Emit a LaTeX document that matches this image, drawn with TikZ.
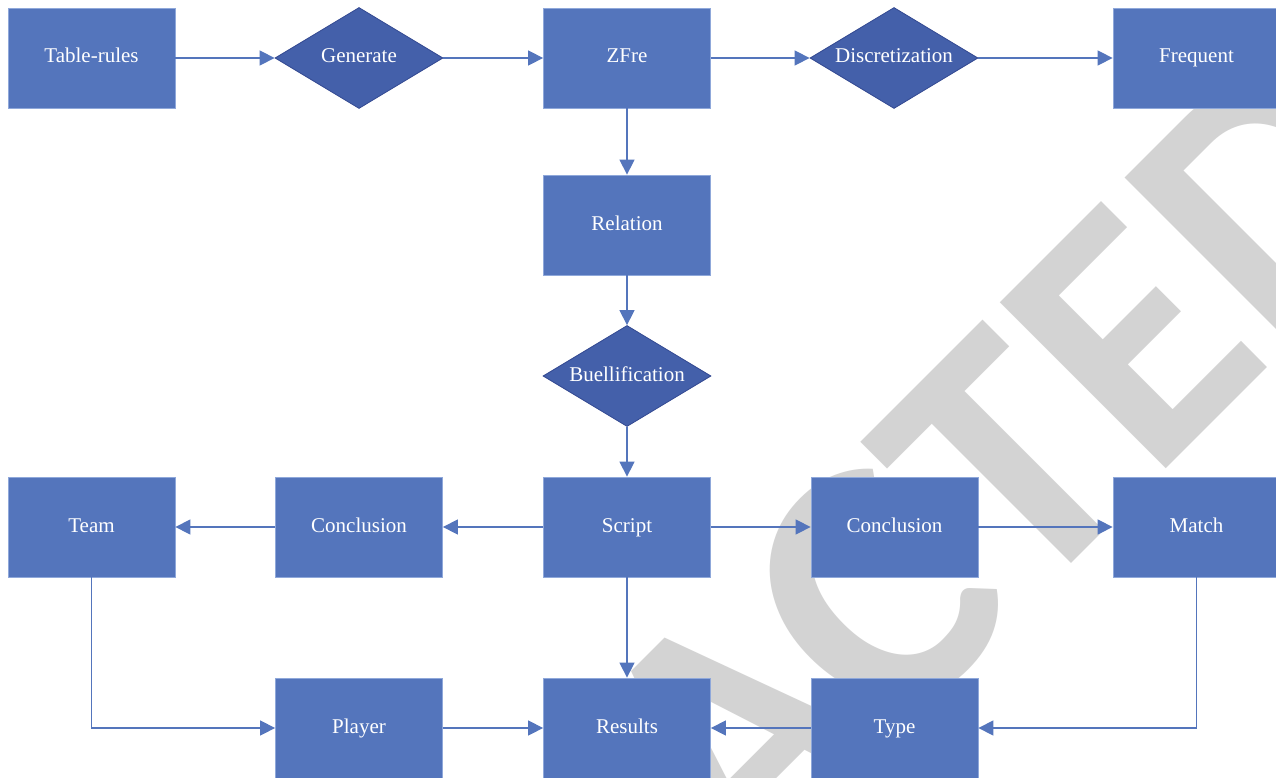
\documentclass[tikz,border=0pt]{standalone}
\usepackage{fontspec}
\setmainfont{Liberation Serif}
\newfontfamily\wmfont{Carlito}
\usetikzlibrary{shapes.geometric,arrows.meta}

\definecolor{boxfill}{RGB}{84,117,188}
\definecolor{boxedge}{RGB}{143,168,218}
\definecolor{decfill}{RGB}{68,96,170}
\definecolor{decedge}{RGB}{50,72,145}
\definecolor{linkcol}{RGB}{84,117,188}
\definecolor{wmgray}{RGB}{211,211,211}

\tikzset{
  label font/.style={text=white, font=\fontsize{21}{24}\selectfont,
    text height=14pt, text depth=4pt},
  stepbox/.style={rectangle, fill=boxfill, draw=boxedge, line width=0.8pt,
    minimum width=167pt, minimum height=100pt, inner sep=0pt, label font},
  decision/.style={diamond, fill=decfill, draw=decedge, line width=0.8pt,
    minimum width=168pt, minimum height=101pt, inner sep=0pt, label font},
  flow/.style={draw=linkcol, line width=1.4pt,
    -{Triangle[length=15pt,width=15pt]}},
}
% zero-width label so the diamond keeps its set size
\newcommand{\dtext}[1]{\makebox[0pt]{#1}}

\begin{document}
\begin{tikzpicture}[x=1pt,y=-1pt]
  \useasboundingbox (0,0) rectangle (1276,778);
  \fill[white] (0,0) rectangle (1276,778);

  % background stamp
  \node[text=wmgray, font=\wmfont\bfseries\fontsize{362}{362}\selectfont,
        rotate=45, anchor=base, inner sep=0pt] (stamp) at (817,818) {RETRACTED};

  % row 1
  \node[stepbox]  (tab)    at (91.5,58)   {Table-rules};
  \node[decision] (gen)    at (359,58)    {\dtext{Generate}};
  \node[stepbox]  (zfre)   at (627,58)    {ZFre};
  \node[decision] (disc)   at (894,58)    {\dtext{Discretization}};
  \node[stepbox]  (freq)   at (1196.5,58) {Frequent};
  % middle column
  \node[stepbox]  (rel)    at (627,225)   {Relation};
  \node[decision] (buel)   at (627,376)   {\dtext{Buellification}};
  % row 3
  \node[stepbox]  (team)   at (91.5,527)  {Team};
  \node[stepbox]  (concl)  at (359,527)   {Conclusion};
  \node[stepbox]  (script) at (627,527)   {Script};
  \node[stepbox]  (concr)  at (894.5,527) {Conclusion};
  \node[stepbox]  (match)  at (1196.5,527){Match};
  % row 4
  \node[stepbox]  (player) at (359,728)   {Player};
  \node[stepbox]  (res)    at (627,728)   {Results};
  \node[stepbox]  (type)   at (894.5,728) {Type};

  % connectors
  \draw[flow] (tab) -- (gen);
  \draw[flow] (gen) -- (zfre);
  \draw[flow] (zfre) -- (disc);
  \draw[flow] (disc) -- (freq);
  \draw[flow] (zfre) -- (rel);
  \draw[flow] (rel) -- (buel);
  \draw[flow] (buel) -- (script);
  \draw[flow] (script) -- (concl);
  \draw[flow] (concl) -- (team);
  \draw[flow] (script) -- (concr);
  \draw[flow] (concr) -- (match);
  \draw[flow] (script) -- (res);
  \draw[flow] (team.south) |- (player.west);
  \draw[flow] (player) -- (res);
  \draw[flow] (match.south) |- (type.east);
  \draw[flow] (type) -- (res);
\end{tikzpicture}
\end{document}
